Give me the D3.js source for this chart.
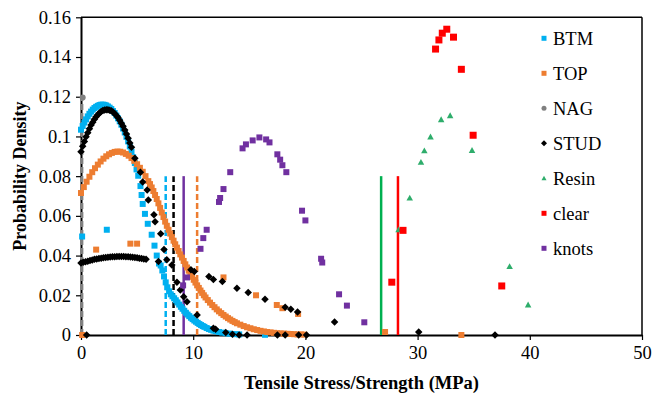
<!DOCTYPE html>
<html>
<head>
<meta charset="utf-8">
<script src="https://cdn.jsdelivr.net/npm/d3@7"></script>
<style>
  body { margin: 0; background: #fff; }
</style>
</head>
<body>
<svg id="chart" width="652" height="399"></svg>
<script>
// ticks
const xTicks = [0, 10, 20, 30, 40, 50];
const yTicks = [0, 0.02, 0.04, 0.06, 0.08, 0.1, 0.12, 0.14, 0.16];

// series points [stress, density]
const btm = [[0,0.1034],[0.15,0.1053],[0.3,0.107],[0.45,0.1086],[0.6,0.1101],[0.75,0.1114],[0.9,0.1125],[1.05,0.1135],
  [1.2,0.1143],[1.35,0.1149],[1.5,0.1154],[1.65,0.1158],[1.8,0.116],[1.95,0.116],[2.1,0.1159],[2.25,0.1156],[2.4,0.1151],
  [2.55,0.1145],[2.7,0.1138],[2.85,0.1128],[3.0,0.1118],[3.15,0.1105],[3.3,0.1091],[3.45,0.1076],[3.6,0.1059],[3.75,0.104],
  [3.9,0.102],[4.05,0.0998],[4.2,0.0975],[4.35,0.095],[4.5,0.0923],[4.65,0.0895],[4.8,0.0866],[4.95,0.0834],[5.1,0.0802],
  [5.3,0.075],[5.4,0.0705],[5.5,0.066],[5.7,0.061],[5.95,0.056],[6.3,0.0505],[6.55,0.045],[6.75,0.04],[6.95,0.036],
  [7.1,0.035],[7.25,0.0325],[7.4,0.0295],[7.55,0.0265],[7.7,0.024],[7.85,0.022],[8.0,0.0205],[8.15,0.0195],[8.3,0.0185],
  [8.45,0.0175],[8.6,0.0164],[8.75,0.0153],[8.9,0.0142],[9.05,0.0132],[9.2,0.0122],[9.35,0.0112],[9.5,0.0103],[9.65,0.0095],
  [9.8,0.0087],[9.95,0.008],[10.1,0.0073],[10.25,0.0067],[10.4,0.0061],[10.55,0.0055],[10.7,0.005],[10.85,0.0045],[11.0,0.0041],
  [11.2,0.0035],[11.4,0.003],[11.6,0.0026],[11.8,0.0022],[12.0,0.0019],[12.3,0.0015],[12.6,0.0012],[12.9,0.0009],[13.2,0.0007],
  [13.5,0.0005],[13.8,0.0004],[14.1,0.0003],[16.4,0.0001],[0.1,0.0496],[2.3,0.053]];

const top_ = [[0,0.0715],[0.25,0.0745],[0.5,0.0772],[0.75,0.0797],[1.0,0.082],[1.25,0.084],[1.5,0.0858],[1.75,0.0874],
  [2.0,0.0888],[2.25,0.09],[2.5,0.091],[2.75,0.0917],[3.0,0.0922],[3.25,0.0924],[3.5,0.0923],[3.75,0.0919],[4.0,0.0912],
  [4.25,0.0903],[4.5,0.0891],[4.75,0.0877],[5.0,0.086],[5.25,0.0842],[5.5,0.0822],[5.75,0.08],[6.0,0.0775],[6.15,0.076],
  [6.3,0.0743],[6.45,0.0725],[6.6,0.0705],[6.75,0.0685],[6.9,0.0663],[7.05,0.064],[7.2,0.0617],[7.35,0.0594],[7.5,0.0571],
  [7.65,0.055],[7.8,0.053],[7.95,0.0511],[8.1,0.0493],[8.25,0.0475],[8.4,0.0457],[8.55,0.044],[8.7,0.0423],[8.85,0.0406],
  [9.0,0.039],[9.15,0.0373],[9.3,0.0356],[9.45,0.034],[9.6,0.0324],[9.75,0.0308],[9.9,0.0293],[10.05,0.0278],[10.2,0.0264],
  [10.35,0.025],[10.5,0.0237],[10.65,0.0224],[10.8,0.0212],[10.95,0.02],[11.1,0.0189],[11.3,0.0176],[11.5,0.0163],
  [11.7,0.0151],[11.9,0.014],[12.1,0.0129],[12.3,0.0119],[12.5,0.011],[12.7,0.0101],[12.9,0.0093],[13.1,0.0085],[13.3,0.0078],
  [13.5,0.0071],[13.7,0.0065],[13.9,0.0059],[14.2,0.0052],[14.5,0.0045],[14.8,0.0039],[15.1,0.0034],[15.4,0.0029],
  [15.7,0.0025],[16.0,0.0021],[16.3,0.0018],[16.6,0.0015],[16.9,0.0013],[17.2,0.0011],[17.5,0.0009],[17.8,0.0008],
  [18.1,0.0007],[18.4,0.0006],[18.7,0.0005],[19.0,0.0004],[19.3,0.0003],[19.6,0.0003],[19.9,0.0002],
  [0.1,0],[1.35,0.043],[4.4,0.046],[5.0,0.046],[12.7,0.029],[15.6,0.02],[17.45,0.0151],[17.95,0.0135],[19.35,0.0106],
  [27.1,0.0015],[33.9,0]];

const nag = [[0.15,0.1196]];

const stud = [[0,0.0923],[0.15,0.095],[0.3,0.0975],[0.45,0.0998],[0.6,0.1019],[0.75,0.1039],[0.9,0.1057],[1.05,0.1072],
  [1.2,0.1087],[1.35,0.1099],[1.5,0.1109],[1.65,0.1118],[1.8,0.1125],[1.95,0.113],[2.1,0.1133],[2.25,0.1135],[2.4,0.1135],
  [2.55,0.1132],[2.7,0.1129],[2.85,0.1123],[3.0,0.1115],[3.15,0.1106],[3.3,0.1095],[3.45,0.1082],[3.6,0.1067],[3.75,0.1051],
  [3.9,0.1033],[4.05,0.1012],[4.2,0.0991],[4.35,0.0967],[4.5,0.0945],
  [4.8,0.089],[5.3,0.082],[5.5,0.077],[5.9,0.073],[6.0,0.068],[6.5,0.0606],[6.6,0.057],[7.1,0.051],[7.4,0.043],[6.9,0.037],
  [7.65,0.0379],[8.1,0.0353],[8.55,0.0266],[8.85,0.0227],[9.15,0.0193],[9.45,0.0168],[10.35,0.0101],[11.8,0.0034],
  [12.0,0.0029],[12.9,0.0012],[13.5,0.0004],[14.1,0],[14.8,0],[17.5,0],[18.2,0],[19.4,0],[20.1,0],[30.1,0.0015],[36.9,0],[0.5,0],
  [9.8,0.0328],[10.1,0.032],[11.4,0.0294],[11.8,0.028],[12.6,0.0269],[13.9,0.0236],[14.9,0.0214],[16.4,0.018],[18.2,0.014],
  [18.7,0.013],[19.3,0.0116],[22.6,0.0066],
  [0,0.0362],[0.2,0.0366],[0.4,0.0369],[0.6,0.0372],[0.8,0.0375],[1.0,0.0378],[1.2,0.0381],[1.4,0.0383],[1.6,0.0385],
  [1.8,0.0387],[2.0,0.0389],[2.2,0.039],[2.4,0.0392],[2.6,0.0393],[2.8,0.0394],[3.0,0.0394],[3.2,0.0395],[3.4,0.0395],
  [3.6,0.0395],[3.8,0.0395],[4.0,0.0394],[4.2,0.0394],[4.4,0.0393],[4.6,0.0392],[4.8,0.039],[5.0,0.0389],[5.2,0.0387],
  [5.4,0.0385],[5.6,0.0383],[5.8,0.0381]];

const resin = [[28.3,0.053],[29.3,0.069],[30.3,0.087],[30.6,0.0928],[31.15,0.0998],[32.1,0.1085],[32.9,0.1105],
  [34.85,0.093],[38.2,0.0345],[39.85,0.0152]];

const clear = [[27.7,0.0266],[28.7,0.0527],[31.6,0.144],[31.9,0.1486],[32.2,0.152],[32.6,0.154],[33.2,0.15],
  [33.9,0.1338],[34.95,0.1006],[37.5,0.0247]];

const knots = [[9.1,0.025],[9.45,0.029],[10.65,0.0434],[10.9,0.0488],[11.2,0.053],[12.3,0.067],[12.4,0.069],[12.7,0.0735],
  [13.3,0.082],[14.4,0.094],[14.7,0.096],[15.3,0.098],[15.9,0.0995],[16.5,0.0985],[16.8,0.097],[17.5,0.091],[17.75,0.0883],
  [17.95,0.0855],[18.3,0.082],[19.7,0.0626],[20.0,0.0577],[21.4,0.0384],[21.5,0.0365],[23.0,0.0205],[23.7,0.0148],[25.25,0.0064]];

// vertical marker lines (mean strengths), each from 0 up to lineTop
const meanX = { NAG: 0.1, BTM: 7.55, STUD: 8.25, knots: 9.15, TOP: 10.35, Resin: 26.75, clear: 28.25 };
const lineTop = 0.08, nagLineTop = 0.12;

const series = [
  { name: "BTM",   data: btm,   color: "#00B0F0", shape: "square",   size: 6 },
  { name: "TOP",   data: top_,  color: "#ED7D31", shape: "square",   size: 6 },
  { name: "NAG",   data: nag,   color: "#808080", shape: "circle",   size: 6 },
  { name: "STUD",  data: stud,  color: "#000000", shape: "diamond",  size: 7.5 },
  { name: "Resin", data: resin, color: "#2EAD6B", shape: "triangle", size: 6.5 },
  { name: "clear", data: clear, color: "#FF0000", shape: "square",   size: 7 },
  { name: "knots", data: knots, color: "#7030A0", shape: "square",   size: 6 }
];
const lineStyle = {
  NAG:   { color: "#808080", dash: "6,3" },
  BTM:   { color: "#00B0F0", dash: "6,3" },
  STUD:  { color: "#000000", dash: "6,3" },
  knots: { color: "#7030A0", dash: null },
  TOP:   { color: "#ED7D31", dash: "6,3" },
  Resin: { color: "#00B050", dash: null },
  clear: { color: "#FF0000", dash: null }
};

const FONT = "'Liberation Serif', 'Times New Roman', Times, 'DejaVu Serif', serif";
const svg = d3.select("#chart");
const left = 81, right = 642, topY = 17.3, bottom = 335;

const x = d3.scaleLinear().domain([0, 50]).range([left, right]);
const y = d3.scaleLinear().domain([0, 0.16]).range([bottom, topY]);

function markerPath(shape, s) {
  const h = s / 2;
  if (shape === "square") return `M${-h},${-h}h${s}v${s}h${-s}Z`;
  if (shape === "diamond") return `M0,${-h}L${h},0L0,${h}L${-h},0Z`;
  if (shape === "triangle") return `M0,${-h}L${h},${h * 0.8}L${-h},${h * 0.8}Z`;
  return d3.arc()({ innerRadius: 0, outerRadius: h, startAngle: 0, endAngle: 2 * Math.PI });
}

// frame top/right
svg.append("line").attr("x1", left).attr("x2", right).attr("y1", topY).attr("y2", topY)
  .attr("stroke", "#000").attr("stroke-width", 1.5);
svg.append("line").attr("x1", right).attr("x2", right).attr("y1", topY).attr("y2", bottom)
  .attr("stroke", "#000").attr("stroke-width", 1.5);

// axes
const yAxis = svg.append("g").attr("transform", `translate(${left},0)`)
  .call(d3.axisLeft(y).tickValues(yTicks).tickSize(5).tickSizeOuter(0)
    .tickFormat(d => d === 0 ? "0" : d3.format(".2~f")(d)));
const xAxis = svg.append("g").attr("transform", `translate(0,${bottom})`)
  .call(d3.axisBottom(x).tickValues(xTicks).tickSize(5).tickSizeOuter(0));
[yAxis, xAxis].forEach(a => {
  a.attr("font-family", null).attr("font-size", null);
  a.select(".domain").attr("stroke-width", 2);
  a.selectAll(".tick line").attr("stroke-width", 1.2);
  a.selectAll("text").style("font-size", "18.5px").style("font-family", FONT).attr("fill", "#000");
});
yAxis.selectAll("text").attr("x", -10);
xAxis.selectAll("text").attr("y", 11);

// mean lines
const lines = svg.append("g");
Object.keys(meanX).forEach(k => {
  const st = lineStyle[k];
  lines.append("line")
    .attr("x1", x(meanX[k])).attr("x2", x(meanX[k]))
    .attr("y1", y(0)).attr("y2", y(k === "NAG" ? nagLineTop : lineTop))
    .attr("stroke", st.color).attr("stroke-width", 2.5)
    .attr("stroke-dasharray", st.dash);
});

// points
series.forEach(s => {
  svg.append("g").selectAll("path").data(s.data).enter().append("path")
    .attr("d", markerPath(s.shape, s.size))
    .attr("transform", d => `translate(${x(d[0])},${y(d[1])})`)
    .attr("fill", s.color);
});

// legend
const legend = svg.append("g").selectAll("g").data(series).enter().append("g")
  .attr("transform", (d, i) => `translate(544,${38.3 + i * 35})`);
legend.append("path").attr("d", d => markerPath(d.shape, d.shape === "diamond" ? 6 : 5)).attr("fill", d => d.color);
legend.append("text").attr("x", 9).attr("dy", "0.35em")
  .style("font-family", FONT).style("font-size", "18.5px").text(d => d.name);

// axis titles
svg.append("text").attr("x", (left + right) / 2).attr("y", 389).attr("text-anchor", "middle")
  .style("font-family", FONT).style("font-size", "18.5px").style("font-weight", "bold")
  .text("Tensile Stress/Strength (MPa)");
svg.append("text").attr("transform", `translate(26,${(topY + bottom) / 2}) rotate(-90)`)
  .attr("text-anchor", "middle")
  .style("font-family", FONT).style("font-size", "18px").style("font-weight", "bold")
  .text("Probability Density");
</script>
</body>
</html>
